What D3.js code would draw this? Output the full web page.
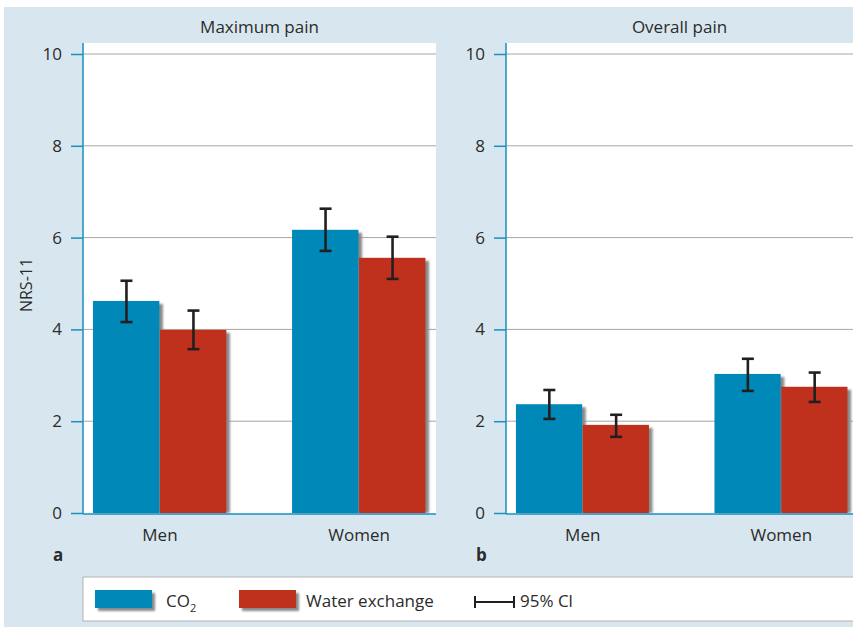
<!DOCTYPE html>
<html>
<head>
<meta charset="utf-8">
<script src="https://cdn.jsdelivr.net/npm/d3@7"></script>
<style>
  body { margin: 0; background: #fff; }
  text { font-family: "Open Sans", "Noto Sans", sans-serif; fill: #2b2b2b; }
</style>
</head>
<body>
<div id="chart"></div>
<script>
// categories and series
const groups = ["Men", "Women"];
const seriesNames = ["CO2", "Water exchange"];
const panelTitles = ["Maximum pain", "Overall pain"];
const panelLetters = ["a", "b"];
const yTicks = [0, 2, 4, 6, 8, 10];

// Maximum pain (mean, lower CI, upper CI) per group
const maxCO2 = [4.62, 6.17];
const maxCO2Lo = [4.16, 5.71];
const maxCO2Hi = [5.06, 6.63];
const maxWater = [3.99, 5.56];
const maxWaterLo = [3.57, 5.10];
const maxWaterHi = [4.41, 6.02];

// Overall pain
const allCO2 = [2.37, 3.03];
const allCO2Lo = [2.05, 2.66];
const allCO2Hi = [2.68, 3.36];
const allWater = [1.92, 2.75];
const allWaterLo = [1.66, 2.42];
const allWaterHi = [2.14, 3.06];

const colors = ["#0089b8", "#c0311d"];

function drawChart() {
    const W = 853, H = 627;
    const svg = d3.select("#chart").append("svg")
        .attr("width", W).attr("height", H);

    const defs = svg.append("defs");
    defs.append("filter").attr("id", "blur")
        .attr("x", "-20%").attr("y", "-20%").attr("width", "140%").attr("height", "140%")
        .append("feGaussianBlur").attr("stdDeviation", 1);

    // background
    svg.append("rect").attr("x", 4).attr("y", 7).attr("width", W - 4).attr("height", H - 7)
        .attr("fill", "#d8e7ef");

    const y = d3.scaleLinear().domain([0, 10]).range([513, 54]);
    const plotTop = 43, plotBottom = 514;

    let panels = [
        {x0: 83, x1: 436, right: 436, data: [maxCO2, maxWater], lo: [maxCO2Lo, maxWaterLo], hi: [maxCO2Hi, maxWaterHi]},
        {x0: 506, x1: 858, right: 853, data: [allCO2, allWater], lo: [allCO2Lo, allWaterLo], hi: [allCO2Hi, allWaterHi]}
    ];

    panels.forEach(function (p, i) {
        const g = svg.append("g");
        const x = d3.scaleBand().domain(groups).range([p.x0, p.x1])
            .paddingInner(0.327).paddingOuter(0.05);
        const xs = d3.scaleBand().domain(seriesNames).range([0, x.bandwidth()]);

        // white plot area
        g.append("rect").attr("x", p.x0).attr("y", plotTop)
            .attr("width", p.right - p.x0).attr("height", plotBottom - plotTop)
            .attr("fill", "#fff");

        // title
        g.append("text").attr("x", (p.x0 + p.right) / 2).attr("y", 33)
            .attr("text-anchor", "middle").style("font-size", "17px")
            .text(panelTitles[i]);

        // grid lines
        g.selectAll(".grid").data(yTicks.filter(d => d > 0)).enter()
            .append("line")
            .attr("x1", p.x0).attr("x2", p.right)
            .attr("y1", d => y(d)).attr("y2", d => y(d))
            .attr("stroke", "#a6a6a6").attr("stroke-width", 1);

        // bars
        const bars = [];
        groups.forEach(function (grp, gi) {
            seriesNames.forEach(function (s, si) {
                bars.push({grp: grp, s: s, si: si, v: p.data[si][gi], lo: p.lo[si][gi], hi: p.hi[si][gi]});
            });
        });

        g.selectAll(".shadow").data(bars).enter()
            .append("rect")
            .attr("x", d => x(d.grp) + xs(d.s) + 3)
            .attr("y", d => y(d.v) + 3)
            .attr("width", xs.bandwidth())
            .attr("height", d => y(0) - y(d.v) - 3)
            .attr("fill", "#8a8a8a")
            .attr("filter", "url(#blur)");

        g.selectAll(".bar").data(bars).enter()
            .append("rect")
            .attr("x", d => x(d.grp) + xs(d.s))
            .attr("y", d => y(d.v))
            .attr("width", xs.bandwidth() - 0.6)
            .attr("height", d => y(0) - y(d.v))
            .attr("fill", d => colors[d.si]);

        // error bars
        const err = g.selectAll(".err").data(bars).enter().append("g")
            .attr("transform", d => "translate(" + (x(d.grp) + xs(d.s) + xs.bandwidth() / 2) + ",0)");
        err.append("line").attr("x1", 0).attr("x2", 0)
            .attr("y1", d => y(d.lo)).attr("y2", d => y(d.hi))
            .attr("stroke", "#231f20").attr("stroke-width", 2.6);
        err.append("line").attr("x1", -6).attr("x2", 6)
            .attr("y1", d => y(d.lo)).attr("y2", d => y(d.lo))
            .attr("stroke", "#231f20").attr("stroke-width", 2.6);
        err.append("line").attr("x1", -6).attr("x2", 6)
            .attr("y1", d => y(d.hi)).attr("y2", d => y(d.hi))
            .attr("stroke", "#231f20").attr("stroke-width", 2.6);

        // y axis
        const yAxis = g.append("g").attr("transform", "translate(" + p.x0 + ",0)")
            .call(d3.axisLeft(y).tickValues(yTicks).tickSize(12).tickPadding(9));
        yAxis.select(".domain").remove();
        yAxis.selectAll(".tick line").attr("stroke", "#1a8fbf").attr("stroke-width", 1.5);
        yAxis.selectAll(".tick text").style("font-size", "17px")
            .style("font-family", "\"Open Sans\", sans-serif").attr("fill", "#2b2b2b");

        g.append("line").attr("x1", p.x0).attr("x2", p.x0)
            .attr("y1", plotTop).attr("y2", plotBottom)
            .attr("stroke", "#1a8fbf").attr("stroke-width", 1.5);
        g.append("line").attr("x1", p.x0).attr("x2", p.right)
            .attr("y1", plotBottom).attr("y2", plotBottom)
            .attr("stroke", "#1a8fbf").attr("stroke-width", 1.5);

        // x labels
        g.selectAll(".xl").data(groups).enter().append("text")
            .attr("x", d => x(d) + x.bandwidth() / 2).attr("y", 541)
            .attr("text-anchor", "middle").style("font-size", "17px")
            .text(d => d);

        g.append("text").attr("x", p.x0 - 30).attr("y", 561)
            .style("font-size", "17px").style("font-weight", "bold")
            .text(panelLetters[i]);
    });

    // y label
    svg.append("text")
        .attr("transform", "translate(32,285) rotate(-90)")
        .attr("text-anchor", "middle").style("font-size", "16px")
        .text("NRS-11");

    // legend
    const lg = svg.append("g");
    lg.append("rect").attr("x", 83).attr("y", 577).attr("width", W - 83 + 2).attr("height", 44)
        .attr("fill", "#fff").attr("stroke", "#b3b3b3").attr("stroke-width", 1);

    const legendX = [95, 239];
    seriesNames.forEach(function (s, i) {
        lg.append("rect").attr("x", legendX[i] + 3).attr("y", 593)
            .attr("width", 57).attr("height", 18).attr("fill", "#8a8a8a").attr("filter", "url(#blur)");
        lg.append("rect").attr("x", legendX[i]).attr("y", 590)
            .attr("width", 57).attr("height", 18).attr("fill", colors[i]);
    });
    const co2 = lg.append("text").attr("x", 166).attr("y", 607).style("font-size", "17px");
    co2.append("tspan").text("CO");
    co2.append("tspan").attr("dy", 5).style("font-size", "11px").text("2");
    lg.append("text").attr("x", 306).attr("y", 607).style("font-size", "17px").text("Water exchange");

    lg.append("line").attr("x1", 475).attr("x2", 514).attr("y1", 602).attr("y2", 602)
        .attr("stroke", "#231f20").attr("stroke-width", 2);
    [475, 514].forEach(function (xx) {
        lg.append("line").attr("x1", xx).attr("x2", xx).attr("y1", 596).attr("y2", 608)
            .attr("stroke", "#231f20").attr("stroke-width", 2);
    });
    lg.append("text").attr("x", 520).attr("y", 607).style("font-size", "17px").text("95% Cl");
}
drawChart();
</script>
</body>
</html>
